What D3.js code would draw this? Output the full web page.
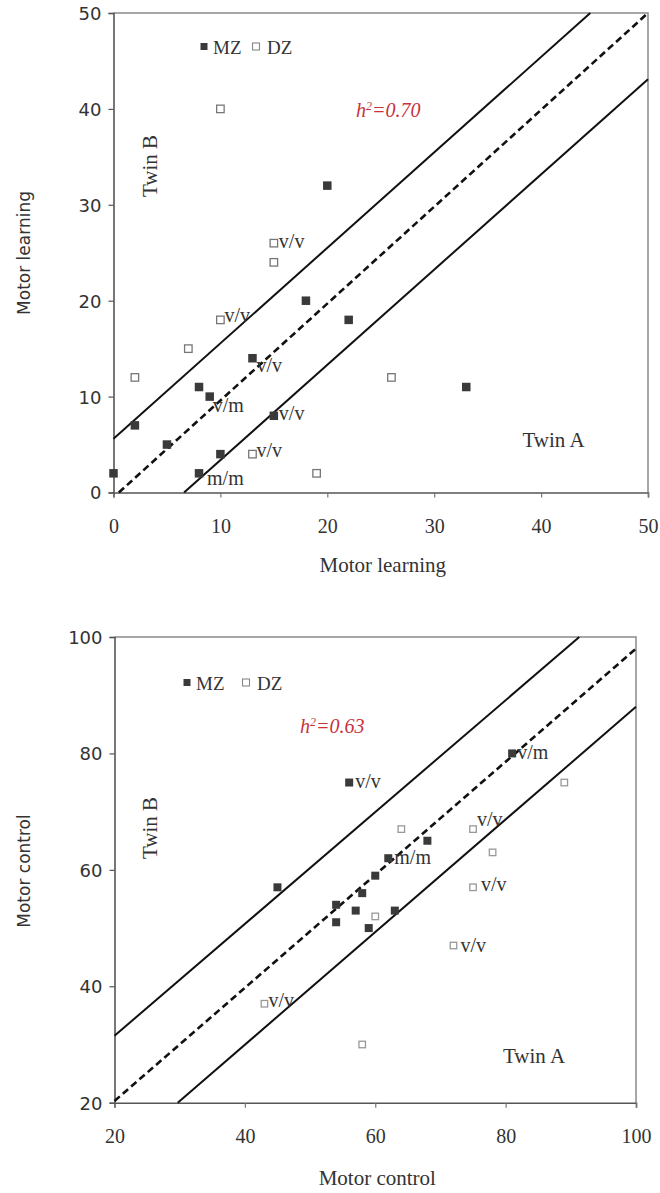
<!DOCTYPE html>
<html>
<head>
<meta charset="utf-8">
<script src="https://cdn.jsdelivr.net/npm/d3@7"></script>
<style>
  html, body { margin: 0; padding: 0; background: #fff; }
  svg { display: block; }
</style>
</head>
<body>
<svg id="chart" width="660" height="1193"></svg>
<script>
// ---------- DATA ----------
// Top panel: Motor learning (Twin A on x, Twin B on y)
const learningTicks = [0, 10, 20, 30, 40, 50];
const learningMZ = [[0,2],[2,7],[5,5],[8,11],[8,2],[9,10],[10,4],[13,14],[15,8],[18,20],[20,32],[22,18],[33,11]];
const learningDZ = [[2,12],[7,15],[10,18],[10,40],[13,4],[15,26],[15,24],[19,2],[26,12]];
const learningLabels = [[15,26,"v/v"],[10,18,"v/v"],[13,14,"v/v"],[9,10,"v/m"],[15,8,"v/v"],[13,4,"v/v"],[8,2,"m/m"]];
const learningUpper = [[0,5.6],[44.6,50]];
const learningMid = [[0.5,0],[50,50]];
const learningLower = [[6.6,0],[50,43.1]];
const learningH2 = "0.70";

// Bottom panel: Motor control
const controlTicks = [20, 40, 60, 80, 100];
const controlMZ = [[45,57],[54,54],[54,51],[56,75],[57,53],[58,56],[59,50],[60,59],[62,62],[63,53],[68,65],[81,80]];
const controlDZ = [[43,37],[58,30],[60,52],[64,67],[72,47],[75,67],[75,57],[78,63],[89,75]];
const controlLabels = [[56,75,"v/v"],[81,80,"v/m"],[62,62,"m/m"],[75,67,"v/v"],[75,57,"v/v"],[72,47,"v/v"],[43,37,"v/v"]];
const controlUpper = [[20,31.5],[91.3,100]];
const controlMid = [[20,20.3],[100,98]];
const controlLower = [[29.7,20],[100,88]];
const controlH2 = "0.63";

// ---------- LAYOUT ----------
const SERIF = "'Liberation Serif', 'Times New Roman', serif";
const SANS = "'DejaVu Sans', Verdana, sans-serif";
const INK = "#333";

const panels = [
  {
    box: {l:113.5, r:648, t:13, b:492.5},
    domain: [0, 50], ticks: learningTicks,
    mz: learningMZ, dz: learningDZ, labels: learningLabels,
    labelOffsets: [[5,5],[4,2],[4,14],[3,15],[5,4],[4,3],[8,12]],
    upper: learningUpper, mid: learningMid, lower: learningLower,
    h2: learningH2, h2Pos: [356, 117],
    legend: {y: 46.5, mzX: 204, dzX: 256},
    twinB: [156.5, 166], twinA: [522.5, 447],
    title: "Motor learning", titleY: 572, yTitleCenter: 253,
    dzSize: 7.5, dzStroke: "#777", mzSize: 8.5
  },
  {
    box: {l:114.5, r:636, t:637, b:1102.7},
    domain: [20, 100], ticks: controlTicks,
    mz: controlMZ, dz: controlDZ, labels: controlLabels,
    labelOffsets: [[6,5],[5,6],[6,6],[4,-3],[8,4],[7,6],[4,3]],
    upper: controlUpper, mid: controlMid, lower: controlLower,
    h2: controlH2, h2Pos: [300, 733],
    legend: {y: 682.5, mzX: 187, dzX: 246},
    twinB: [156.5, 828], twinA: [503, 1063],
    title: "Motor control", titleY: 1185, yTitleCenter: 871,
    dzSize: 6.5, dzStroke: "#999", mzSize: 8
  }
];

const svg = d3.select("#chart");

panels.forEach(p => {
  const x = d3.scaleLinear().domain(p.domain).range([p.box.l, p.box.r]);
  const y = d3.scaleLinear().domain(p.domain).range([p.box.b, p.box.t]);
  const g = svg.append("g");

  // frame (top & right borders)
  g.append("path")
    .attr("d", `M${p.box.l},${p.box.t}H${p.box.r}V${p.box.b}`)
    .attr("fill", "none").attr("stroke", "#8a8a8a").attr("stroke-width", 1.5);

  // axes
  const xAxis = d3.axisBottom(x).tickValues(p.ticks).tickSize(5).tickFormat(d3.format("d"));
  const yAxis = d3.axisLeft(y).tickValues(p.ticks).tickSize(5).tickFormat(d3.format("d"));

  const gx = g.append("g").attr("transform", `translate(0,${p.box.b})`).call(xAxis);
  gx.select(".domain").attr("stroke", "#555").attr("stroke-width", 1.6);
  gx.selectAll(".tick line").attr("stroke", "#777").attr("stroke-width", 1.2);
  gx.selectAll(".tick text")
    .attr("font-family", SERIF).attr("font-size", 20).attr("fill", INK)
    .attr("dy", null).attr("y", 40);

  const gy = g.append("g").attr("transform", `translate(${p.box.l},0)`).call(yAxis);
  gy.select(".domain").attr("stroke", "#555").attr("stroke-width", 1.6);
  gy.selectAll(".tick line").attr("stroke", "#555").attr("stroke-width", 1.2);
  gy.selectAll(".tick text")
    .attr("font-family", SANS).attr("font-size", 18).attr("fill", INK)
    .attr("x", -12).attr("dy", "0.36em");

  // reference lines
  const line = d3.line().x(d => x(d[0])).y(d => y(d[1]));
  [[p.upper, null], [p.lower, null], [p.mid, "7,4"]].forEach(([pts, dash]) => {
    g.append("path").datum(pts)
      .attr("d", line)
      .attr("fill", "none")
      .attr("stroke", "#111")
      .attr("stroke-width", dash ? 2.6 : 2)
      .attr("stroke-dasharray", dash);
  });

  // DZ points (open squares)
  g.selectAll(".dz").data(p.dz).enter().append("rect")
    .attr("x", d => x(d[0]) - p.dzSize/2)
    .attr("y", d => y(d[1]) - p.dzSize/2)
    .attr("width", p.dzSize).attr("height", p.dzSize)
    .attr("fill", "#fff").attr("stroke", p.dzStroke).attr("stroke-width", 1.3);

  // MZ points (filled squares)
  g.selectAll(".mz").data(p.mz).enter().append("rect")
    .attr("x", d => x(d[0]) - p.mzSize/2)
    .attr("y", d => y(d[1]) - p.mzSize/2)
    .attr("width", p.mzSize).attr("height", p.mzSize)
    .attr("fill", "#3a3a3a");

  // genotype labels
  g.selectAll(".lbl").data(p.labels).enter().append("text")
    .attr("x", (d, i) => x(d[0]) + p.labelOffsets[i][0])
    .attr("y", (d, i) => y(d[1]) + p.labelOffsets[i][1])
    .attr("font-family", SERIF).attr("font-size", 20).attr("fill", INK)
    .text(d => d[2]);

  // legend
  g.append("rect").attr("x", p.legend.mzX - 3.5).attr("y", p.legend.y - 3.5)
    .attr("width", 7).attr("height", 7).attr("fill", "#3a3a3a");
  g.append("text").attr("x", p.legend.mzX + 9).attr("y", p.legend.y + 7.5)
    .attr("font-family", SERIF).attr("font-size", 19).attr("fill", INK).text("MZ");
  g.append("rect").attr("x", p.legend.dzX - 3.5).attr("y", p.legend.y - 3.5)
    .attr("width", 7).attr("height", 7).attr("fill", "#fff").attr("stroke", "#888").attr("stroke-width", 1.1);
  g.append("text").attr("x", p.legend.dzX + 11).attr("y", p.legend.y + 7.5)
    .attr("font-family", SERIF).attr("font-size", 19).attr("fill", INK).text("DZ");

  // heritability
  const h = g.append("text").attr("x", p.h2Pos[0]).attr("y", p.h2Pos[1])
    .attr("font-family", SERIF).attr("font-style", "italic").attr("font-size", 20)
    .attr("fill", "#c8323c");
  h.append("tspan").text("h");
  h.append("tspan").attr("dy", -7).attr("font-size", 12).text("2");
  h.append("tspan").attr("dy", 7).text("=" + p.h2);

  // Twin labels
  g.append("text")
    .attr("transform", `translate(${p.twinB[0]},${p.twinB[1]}) rotate(-90)`)
    .attr("text-anchor", "middle")
    .attr("font-family", SERIF).attr("font-size", 21).attr("fill", INK)
    .text("Twin B");
  g.append("text").attr("x", p.twinA[0]).attr("y", p.twinA[1])
    .attr("font-family", SERIF).attr("font-size", 21).attr("fill", INK)
    .text("Twin A");

  // axis titles
  g.append("text").attr("x", (p.box.l + p.box.r) / 2 + 2).attr("y", p.titleY)
    .attr("text-anchor", "middle")
    .attr("font-family", SERIF).attr("font-size", 21).attr("fill", INK)
    .text(p.title);
  g.append("text")
    .attr("transform", `translate(30,${p.yTitleCenter}) rotate(-90)`)
    .attr("text-anchor", "middle")
    .attr("font-family", SANS).attr("font-size", 17).attr("fill", INK)
    .text(p.title);
});
</script>
</body>
</html>
